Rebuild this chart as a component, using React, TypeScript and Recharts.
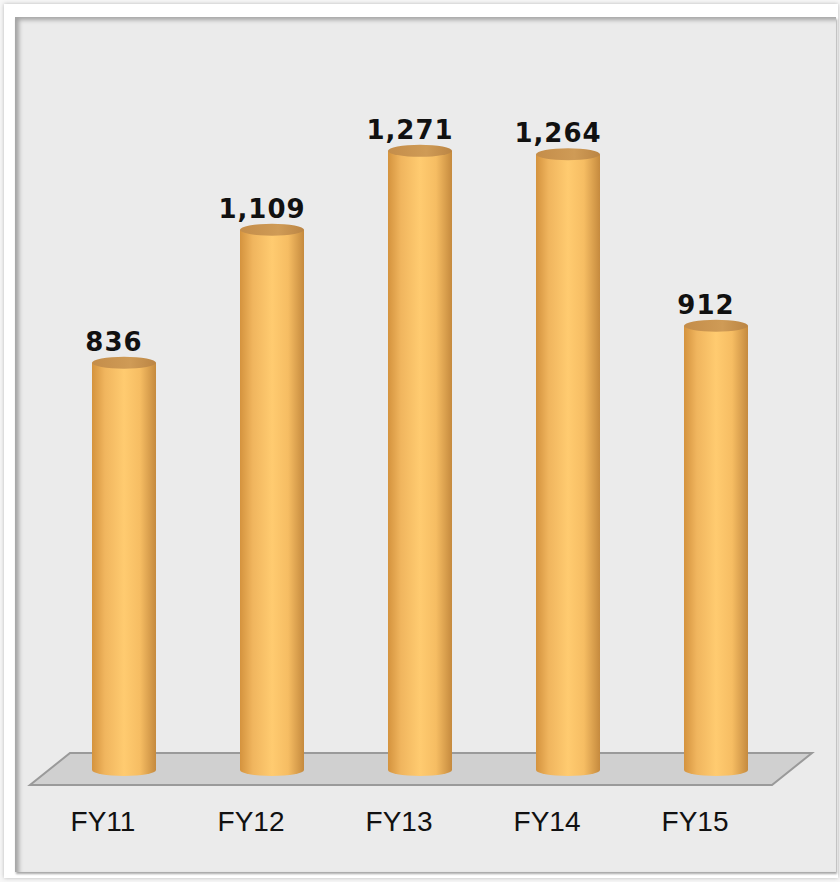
import { BarChart, Bar, XAxis, YAxis, LabelList } from "recharts"

const years = ["FY11", "FY12", "FY13", "FY14", "FY15"]
const values = [836, 1109, 1271, 1264, 912]

const data = years.map((year, i) => ({ year, value: values[i] }))

const W = 840
const H = 882
const M = { top: 88, right: 50, bottom: 0, left: 50 }
const AXIS_H = 112
const BASE_Y = H - AXIS_H
const PLOT_L = M.left
const PLOT_R = W - M.right

function Cylinder(props: any) {
  const { x, y, width, height } = props
  if (height == null || height <= 0) return null
  const cx = x + width / 2
  const rx = width / 2
  const ry = 6
  const bottom = y + height
  return (
    <g>
      <path
        d={`M${x},${y} L${x},${bottom} A${rx},${ry} 0 0 0 ${x + width},${bottom} L${x + width},${y} Z`}
        fill="url(#cylBody)"
      />
      <ellipse cx={cx} cy={y} rx={rx} ry={ry} fill="url(#cylTop)" />
    </g>
  )
}

function ValueLabel(props: any) {
  const { x, y, width, value } = props
  return (
    <text
      x={x + width / 2 - 10}
      y={y - 12}
      textAnchor="middle"
      fontFamily="DejaVu Sans"
      fontWeight="bold"
      fontSize={26}
      letterSpacing={1}
      fill="#111"
    >
      {value.toLocaleString("en-US")}
    </text>
  )
}

function YearTick(props: any) {
  const { x, y, payload } = props
  return (
    <text
      x={x - 21}
      y={y + 53}
      textAnchor="middle"
      fontFamily="Liberation Sans"
      fontSize={28}
      fill="#111"
    >
      {payload.value}
    </text>
  )
}

export default function App() {
  const floor = [
    [PLOT_L + 20, BASE_Y - 17],
    [PLOT_R + 22, BASE_Y - 17],
    [PLOT_R - 18, BASE_Y + 15],
    [PLOT_L - 20, BASE_Y + 15],
  ]
  return (
    <div style={{ position: "absolute", left: 0, top: 0, width: W, height: H, background: "#f7f7f7" }}>
      <div
        style={{
          position: "absolute",
          left: 4,
          top: 4,
          width: 834,
          height: 874,
          background: "#ffffff",
          boxShadow: "0 0 4px rgba(0,0,0,0.25)",
        }}
      />
      <div
        style={{
          position: "absolute",
          left: 15,
          top: 17,
          width: 821,
          height: 855,
          background: "#ebebeb",
          boxShadow: "inset 4px 3px 4px rgba(0,0,0,0.3), 1px 2px 2px rgba(0,0,0,0.35)",
        }}
      />
      <svg width={W} height={H} style={{ position: "absolute", left: 0, top: 0 }}>
        <polygon
          points={floor.map((p) => p.join(",")).join(" ")}
          fill="#d0d0d0"
          stroke="#9a9a9a"
          strokeWidth={2}
        />
      </svg>
      <div style={{ position: "absolute", left: 0, top: 0 }}>
        <BarChart width={W} height={H} data={data} margin={M}>
          <defs>
            <linearGradient id="cylBody" x1="0" y1="0" x2="1" y2="0">
              <stop offset="0%" stopColor="#d4933e" />
              <stop offset="20%" stopColor="#f0b55e" />
              <stop offset="50%" stopColor="#ffcb70" />
              <stop offset="75%" stopColor="#f6bd63" />
              <stop offset="100%" stopColor="#c58a3e" />
            </linearGradient>
            <linearGradient id="cylTop" x1="0" y1="0" x2="1" y2="0">
              <stop offset="0%" stopColor="#c48d4a" />
              <stop offset="60%" stopColor="#cf9b56" />
              <stop offset="100%" stopColor="#bb8544" />
            </linearGradient>
          </defs>
          <XAxis
            dataKey="year"
            height={AXIS_H}
            axisLine={false}
            tickLine={false}
            tick={<YearTick />}
            interval={0}
          />
          <YAxis hide domain={[0, 1400]} />
          <Bar dataKey="value" barSize={64} shape={<Cylinder />} isAnimationActive={false}>
            <LabelList dataKey="value" content={<ValueLabel />} />
          </Bar>
        </BarChart>
      </div>
    </div>
  )
}
